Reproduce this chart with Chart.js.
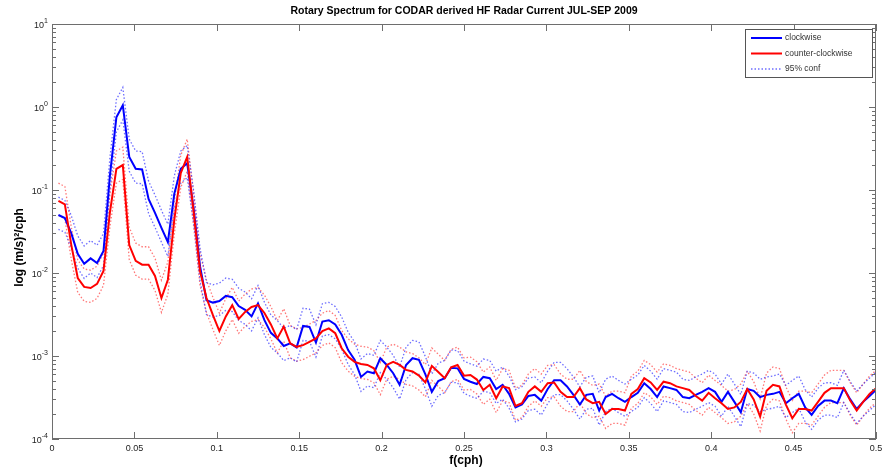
<!DOCTYPE html>
<html>
<head>
<meta charset="utf-8">
<title>Rotary Spectrum</title>
<script src="https://cdn.jsdelivr.net/npm/chart.js@4.4.1/dist/chart.umd.min.js"></script>
<style>
  html, body { margin: 0; padding: 0; background: #fff; }
</style>
</head>
<body>
<canvas id="spec" width="884" height="472"></canvas>
<script>
// ---------- TEXT ----------
const TITLE = "Rotary Spectrum for CODAR derived HF Radar Current JUL-SEP 2009";
const X_TITLE = "f(cph)";
const Y_TITLE = "log (m/s)²/cph";
const LEGEND_LABELS = ["clockwise", "counter-clockwise", "95% conf"];

// ---------- AXES ----------
const DF = 1 / 256; // spectral resolution, cph
const xTicks = [0, 0.05, 0.1, 0.15, 0.2, 0.25, 0.3, 0.35, 0.4, 0.45, 0.5];
const xTickLabels = ["0", "0.05", "0.1", "0.15", "0.2", "0.25", "0.3", "0.35", "0.4", "0.45", "0.5"];
const yTicks = [1e-4, 1e-3, 1e-2, 1e-1, 1e0, 1e1];
const yTickExp = ["-4", "-3", "-2", "-1", "0", "1"];

// ---------- SPECTRA ----------
const cw = [
  0.050, 0.046, 0.030, 0.017, 0.0129, 0.015, 0.0132, 0.0184, 0.15, 0.75,
  1.05, 0.25, 0.18, 0.177, 0.078, 0.053, 0.035, 0.0236, 0.09, 0.18,
  0.21, 0.06, 0.012, 0.0047, 0.0044, 0.0046, 0.0053, 0.0051, 0.0040, 0.0036,
  0.0030, 0.0043, 0.0027, 0.0019, 0.00163, 0.00132, 0.00142, 0.00127, 0.0023, 0.00224,
  0.00145, 0.0026, 0.0027, 0.0024, 0.0018, 0.00118, 0.0009, 0.00056, 0.00065, 0.00062,
  0.00094, 0.00078, 0.00062, 0.00045, 0.00078, 0.00094, 0.0009, 0.0006, 0.00037, 0.0005,
  0.00054, 0.00072, 0.00071, 0.00053, 0.00049, 0.00046, 0.00056, 0.00054, 0.0004, 0.00045,
  0.00035, 0.00024, 0.00026, 0.00033, 0.00034, 0.00029, 0.0004, 0.00051, 0.00051, 0.00043,
  0.00034, 0.00026, 0.00034, 0.00035, 0.00022, 0.00032, 0.00035, 0.00031, 0.00028, 0.00032,
  0.00036, 0.00047, 0.0004, 0.00032, 0.00043, 0.00041, 0.00039, 0.00032, 0.00031, 0.00034,
  0.00037, 0.00041, 0.00037, 0.00028, 0.00037, 0.00028, 0.00021, 0.0004, 0.00038, 0.00032,
  0.00034, 0.00035, 0.00037, 0.00027, 0.00031, 0.00035, 0.00024, 0.000195, 0.00025, 0.00029,
  0.00029, 0.00027, 0.00041, 0.0003, 0.00023, 0.00028, 0.00033, 0.00039
];
const cwUpper = [
  0.082, 0.075, 0.049, 0.028, 0.0212, 0.0246, 0.0216, 0.030, 0.246, 1.23,
  1.72, 0.41, 0.295, 0.29, 0.128, 0.087, 0.057, 0.0387, 0.148, 0.295,
  0.344, 0.098, 0.0197, 0.0077, 0.0072, 0.00754, 0.0087, 0.0084, 0.00656, 0.0059,
  0.0049, 0.00705, 0.00443, 0.00312, 0.00267, 0.00216, 0.00233, 0.00208, 0.00377, 0.00367,
  0.00238, 0.00426, 0.00443, 0.00394, 0.00295, 0.00194, 0.00148, 0.00092, 0.00107, 0.00102,
  0.00154, 0.00128, 0.00102, 0.000738, 0.00128, 0.00154, 0.00148, 0.000984, 0.000607, 0.00082,
  0.000886, 0.00118, 0.00116, 0.000869, 0.000804, 0.000754, 0.000918, 0.000886, 0.000656, 0.000738,
  0.000574, 0.000394, 0.000426, 0.000541, 0.000558, 0.000476, 0.000656, 0.000836, 0.000836, 0.000705,
  0.000558, 0.000426, 0.000558, 0.000574, 0.000361, 0.000525, 0.000574, 0.000508, 0.000459, 0.000525,
  0.00059, 0.000771, 0.000656, 0.000525, 0.000705, 0.000672, 0.00064, 0.000525, 0.000508, 0.000558,
  0.000607, 0.000672, 0.000607, 0.000459, 0.000607, 0.000459, 0.000344, 0.000656, 0.000623, 0.000525,
  0.000558, 0.000574, 0.000607, 0.000443, 0.000508, 0.000574, 0.000394, 0.00032, 0.00041, 0.000476,
  0.000476, 0.000443, 0.000672, 0.000492, 0.000377, 0.000459, 0.000541, 0.00064
];
const cwLower = [
  0.0335, 0.031, 0.020, 0.0114, 0.0086, 0.010, 0.0088, 0.0123, 0.10, 0.50,
  0.70, 0.168, 0.121, 0.119, 0.052, 0.0355, 0.0235, 0.0158, 0.060, 0.121,
  0.141, 0.040, 0.0080, 0.00315, 0.00295, 0.00308, 0.00355, 0.00342, 0.00268, 0.00241,
  0.00201, 0.00288, 0.00181, 0.00127, 0.00109, 0.00088, 0.00095, 0.00085, 0.00154, 0.0015,
  0.00097, 0.00174, 0.00181, 0.00161, 0.00121, 0.00079, 0.0006, 0.000375, 0.000436, 0.000415,
  0.00063, 0.000523, 0.000415, 0.000302, 0.000523, 0.00063, 0.000603, 0.000402, 0.000248, 0.000335,
  0.000362, 0.000482, 0.000476, 0.000355, 0.000328, 0.000308, 0.000375, 0.000362, 0.000268, 0.000302,
  0.000235, 0.000161, 0.000174, 0.000221, 0.000228, 0.000194, 0.000268, 0.000342, 0.000342, 0.000288,
  0.000228, 0.000174, 0.000228, 0.000235, 0.000147, 0.000214, 0.000235, 0.000208, 0.000188, 0.000214,
  0.000241, 0.000315, 0.000268, 0.000214, 0.000288, 0.000275, 0.000261, 0.000214, 0.000208, 0.000228,
  0.000248, 0.000275, 0.000248, 0.000188, 0.000248, 0.000188, 0.000141, 0.000268, 0.000255, 0.000214,
  0.000228, 0.000235, 0.000248, 0.000181, 0.000208, 0.000235, 0.000161, 0.000131, 0.000168, 0.000194,
  0.000194, 0.000181, 0.000275, 0.000201, 0.000154, 0.000188, 0.000221, 0.000261
];
const ccw = [
  0.074, 0.067, 0.0217, 0.0087, 0.0068, 0.0066, 0.0074, 0.0106, 0.054, 0.18,
  0.20, 0.0217, 0.014, 0.0126, 0.0126, 0.0092, 0.0050, 0.0083, 0.044, 0.16,
  0.25, 0.055, 0.0105, 0.005, 0.0031, 0.0020, 0.0030, 0.0041, 0.0028, 0.0034,
  0.0039, 0.0041, 0.0033, 0.0024, 0.00163, 0.00226, 0.00142, 0.00129, 0.00135, 0.00148,
  0.00163, 0.0020, 0.00215, 0.00188, 0.00124, 0.00098, 0.00085, 0.0008, 0.00078, 0.00071,
  0.00051, 0.00078, 0.00085, 0.00078, 0.00068, 0.00065, 0.00058, 0.00048, 0.00076, 0.00064,
  0.00054, 0.00073, 0.00078, 0.00058, 0.00059, 0.00052, 0.00039, 0.00045, 0.00031, 0.00043,
  0.00041, 0.00025, 0.00027, 0.00037, 0.00043, 0.00037, 0.00047, 0.00048, 0.00037, 0.00032,
  0.00032, 0.00041, 0.0003, 0.00027, 0.00028, 0.0002, 0.00023, 0.00023, 0.00022, 0.00035,
  0.0004, 0.00054, 0.00048, 0.00039, 0.00049, 0.00047, 0.00043, 0.00041, 0.00039, 0.00033,
  0.00029, 0.00036, 0.00031, 0.00027, 0.00023, 0.00024, 0.00028, 0.0004, 0.0003, 0.000186,
  0.00038, 0.00045, 0.00043, 0.00026, 0.000178, 0.00023, 0.00023, 0.00022, 0.00028, 0.00036,
  0.00041, 0.00041, 0.00041, 0.00029, 0.00022, 0.00028, 0.00035, 0.00041
];
const ccwUpper = [
  0.121, 0.11, 0.0356, 0.0143, 0.0112, 0.0108, 0.0121, 0.0174, 0.0886, 0.295,
  0.328, 0.0356, 0.023, 0.0207, 0.0207, 0.0151, 0.0082, 0.0136, 0.0722, 0.262,
  0.41, 0.0902, 0.0172, 0.0082, 0.00508, 0.00328, 0.00492, 0.00672, 0.00459, 0.00558,
  0.0064, 0.00672, 0.00541, 0.00394, 0.00267, 0.00371, 0.00233, 0.00212, 0.00221, 0.00243,
  0.00267, 0.00328, 0.00353, 0.00308, 0.00203, 0.00161, 0.00139, 0.00131, 0.00128, 0.00116,
  0.000836, 0.00128, 0.00139, 0.00128, 0.00112, 0.00107, 0.000951, 0.000787, 0.00125, 0.00105,
  0.000886, 0.0012, 0.00128, 0.000951, 0.000968, 0.000853, 0.00064, 0.000738, 0.000508, 0.000705,
  0.000672, 0.00041, 0.000443, 0.000607, 0.000705, 0.000607, 0.000771, 0.000787, 0.000607, 0.000525,
  0.000525, 0.000672, 0.000492, 0.000443, 0.000459, 0.000328, 0.000377, 0.000377, 0.000361, 0.000574,
  0.000656, 0.000886, 0.000787, 0.00064, 0.000804, 0.000771, 0.000705, 0.000672, 0.00064, 0.000541,
  0.000476, 0.00059, 0.000508, 0.000443, 0.000377, 0.000394, 0.000459, 0.000656, 0.000492, 0.000305,
  0.000623, 0.000738, 0.000705, 0.000426, 0.000292, 0.000377, 0.000377, 0.000361, 0.000459, 0.00059,
  0.000672, 0.000672, 0.000672, 0.000476, 0.000361, 0.000459, 0.000574, 0.000672
];
const ccwLower = [
  0.0496, 0.0449, 0.0145, 0.00583, 0.00456, 0.00442, 0.00496, 0.0071, 0.0362, 0.121,
  0.134, 0.0145, 0.0094, 0.00844, 0.00844, 0.00616, 0.00335, 0.00556, 0.0295, 0.107,
  0.168, 0.0369, 0.00704, 0.00335, 0.00208, 0.00134, 0.00201, 0.00275, 0.00188, 0.00228,
  0.00261, 0.00275, 0.00221, 0.00161, 0.00109, 0.00151, 0.00095, 0.000864, 0.000905, 0.000992,
  0.00109, 0.00134, 0.00144, 0.00126, 0.000831, 0.000657, 0.00057, 0.000536, 0.000523, 0.000476,
  0.000342, 0.000523, 0.00057, 0.000523, 0.000456, 0.000436, 0.000389, 0.000322, 0.000509, 0.000429,
  0.000362, 0.000489, 0.000523, 0.000389, 0.000395, 0.000348, 0.000261, 0.000302, 0.000208, 0.000288,
  0.000275, 0.000168, 0.000181, 0.000248, 0.000288, 0.000248, 0.000315, 0.000322, 0.000248, 0.000214,
  0.000214, 0.000275, 0.000201, 0.000181, 0.000188, 0.000134, 0.000154, 0.000154, 0.000147, 0.000235,
  0.000268, 0.000362, 0.000322, 0.000261, 0.000328, 0.000315, 0.000288, 0.000275, 0.000261, 0.000221,
  0.000194, 0.000241, 0.000208, 0.000181, 0.000154, 0.000161, 0.000188, 0.000268, 0.000201, 0.000125,
  0.000255, 0.000302, 0.000288, 0.000174, 0.000119, 0.000154, 0.000154, 0.000147, 0.000188, 0.000241,
  0.000275, 0.000275, 0.000275, 0.000194, 0.000147, 0.000188, 0.000235, 0.000275
];

// ---------- STYLE ----------
const BLUE = "#0000ff";
const RED = "#ff0000";
const BLUE_DOT = "rgba(30, 30, 255, 0.65)";
const RED_DOT = "rgba(255, 30, 30, 0.6)";
const AXIS_COLOR = "#6e6e6e";
const FONT = "'Liberation Sans', Arial, Helvetica, sans-serif";

// frequency bins (cph), one per spectral estimate
const freq = cw.map((_, i) => (i + 1) * DF);
const toPoints = (arr) => arr.map((v, i) => ({ x: freq[i], y: v }));

function solid(label, data, color, order) {
  return {
    label, data: toPoints(data), borderColor: color, backgroundColor: color,
    borderWidth: 2, pointRadius: 0, tension: 0, fill: false, order,
  };
}
function dotted(label, data, color) {
  return {
    label, data: toPoints(data), borderColor: color, backgroundColor: color,
    borderWidth: 1.3, borderDash: [1.5, 2], pointRadius: 0, tension: 0, fill: false, order: 3,
  };
}

// ---------- MATLAB-STYLE AXES, TEXT AND LEGEND ----------
const axesPlugin = {
  id: "matlabAxes",
  afterDraw(chart) {
    const { ctx, chartArea: a, scales } = chart;
    const xs = scales.x, ys = scales.y;
    ctx.save();

    // box
    ctx.strokeStyle = AXIS_COLOR;
    ctx.lineWidth = 1;
    ctx.strokeRect(a.left + 0.5, a.top + 0.5, a.right - a.left - 1, a.bottom - a.top - 1);

    // x ticks (inward, bottom and top)
    ctx.beginPath();
    xTicks.forEach((t) => {
      const px = Math.round(xs.getPixelForValue(t)) + 0.5;
      ctx.moveTo(px, a.bottom); ctx.lineTo(px, a.bottom - 7);
      ctx.moveTo(px, a.top); ctx.lineTo(px, a.top + 7);
    });
    // y major + minor ticks (inward, left and right)
    yTicks.forEach((t, i) => {
      const py = Math.round(ys.getPixelForValue(t)) + 0.5;
      ctx.moveTo(a.left, py); ctx.lineTo(a.left + 7, py);
      ctx.moveTo(a.right, py); ctx.lineTo(a.right - 7, py);
      if (i === yTicks.length - 1) return;
      for (let m = 2; m <= 9; m++) {
        const pm = Math.round(ys.getPixelForValue(t * m)) + 0.5;
        ctx.moveTo(a.left, pm); ctx.lineTo(a.left + 4, pm);
        ctx.moveTo(a.right, pm); ctx.lineTo(a.right - 4, pm);
      }
    });
    ctx.stroke();

    // x tick labels
    ctx.fillStyle = "#222";
    ctx.font = `9px ${FONT}`;
    ctx.textAlign = "center";
    ctx.textBaseline = "top";
    xTicks.forEach((t, i) => {
      ctx.fillText(xTickLabels[i], xs.getPixelForValue(t), a.bottom + 5);
    });

    // y tick labels: 10 with raised exponent
    yTicks.forEach((t, i) => {
      const py = ys.getPixelForValue(t);
      ctx.font = `7px ${FONT}`;
      const ew = ctx.measureText(yTickExp[i]).width;
      const right = a.left - 4;
      ctx.textAlign = "left";
      ctx.textBaseline = "alphabetic";
      ctx.fillText(yTickExp[i], right - ew, py - 1);
      ctx.font = `9px ${FONT}`;
      ctx.textAlign = "right";
      ctx.fillText("10", right - ew, py + 4);
    });

    // titles
    ctx.fillStyle = "#000";
    ctx.font = `bold 10.5px ${FONT}`;
    ctx.textAlign = "center";
    ctx.textBaseline = "middle";
    ctx.fillText(TITLE, (a.left + a.right) / 2, a.top - 13);
    ctx.font = `bold 12px ${FONT}`;
    ctx.fillText(X_TITLE, (a.left + a.right) / 2 + 2, a.bottom + 22);
    ctx.save();
    ctx.translate(20, (a.top + a.bottom) / 2 + 16);
    ctx.rotate(-Math.PI / 2);
    ctx.fillText(Y_TITLE, 0, 0);
    ctx.restore();

    // legend box
    const bx = a.right - 131, by = a.top + 5, bw = 127, bh = 48;
    ctx.fillStyle = "#fff";
    ctx.fillRect(bx, by, bw, bh);
    ctx.strokeStyle = "#555";
    ctx.lineWidth = 1;
    ctx.strokeRect(bx + 0.5, by + 0.5, bw, bh);
    const rows = [
      { color: BLUE, width: 2, dash: [] },
      { color: RED, width: 2, dash: [] },
      { color: BLUE_DOT, width: 1.3, dash: [1.5, 2] },
    ];
    ctx.font = `8.5px ${FONT}`;
    ctx.textAlign = "left";
    ctx.textBaseline = "middle";
    rows.forEach((r, i) => {
      const ry = by + 9 + i * 15.5;
      ctx.beginPath();
      ctx.strokeStyle = r.color;
      ctx.lineWidth = r.width;
      ctx.setLineDash(r.dash);
      ctx.moveTo(bx + 6, ry); ctx.lineTo(bx + 37, ry);
      ctx.stroke();
      ctx.setLineDash([]);
      ctx.fillStyle = "#333";
      ctx.fillText(LEGEND_LABELS[i], bx + 40, ry);
    });

    ctx.restore();
  },
};

// ---------- CHART ----------
new Chart(document.getElementById("spec").getContext("2d"), {
  type: "line",
  data: {
    datasets: [
      solid("clockwise", cw, BLUE, 1),
      solid("counter-clockwise", ccw, RED, 0),
      dotted("95% conf", cwUpper, BLUE_DOT),
      dotted("95% conf cw lower", cwLower, BLUE_DOT),
      dotted("95% conf ccw upper", ccwUpper, RED_DOT),
      dotted("95% conf ccw lower", ccwLower, RED_DOT),
    ],
  },
  options: {
    responsive: false,
    animation: false,
    devicePixelRatio: 1,
    layout: { padding: { left: 52, top: 24, right: 8, bottom: 33 } },
    plugins: { legend: { display: false }, tooltip: { enabled: false }, title: { display: false } },
    scales: {
      x: { type: "linear", min: 0, max: 0.5, display: false },
      y: { type: "logarithmic", min: 1e-4, max: 10, display: false },
    },
  },
  plugins: [axesPlugin],
});
</script>
</body>
</html>
